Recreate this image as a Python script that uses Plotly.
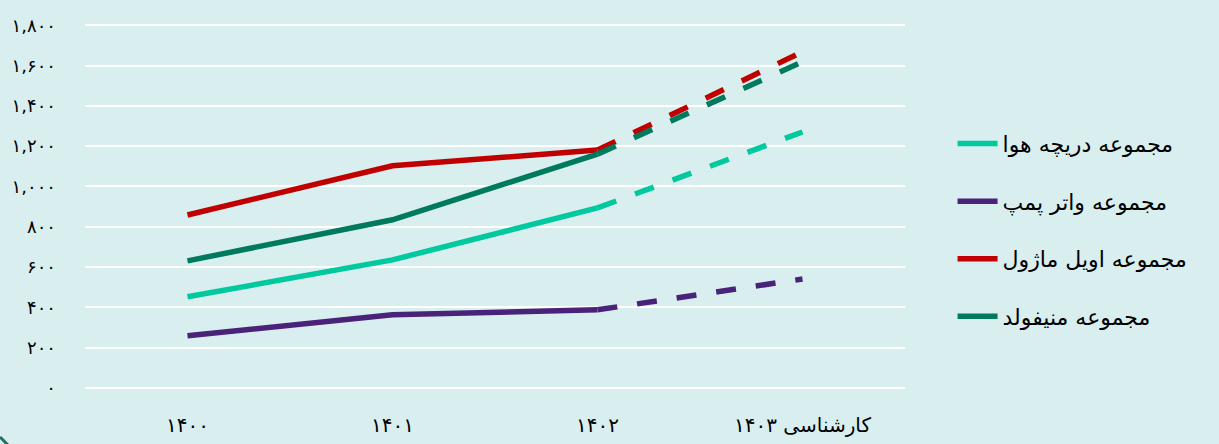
import plotly.graph_objects as go

categories = ["۱۴۰۰", "۱۴۰۱", "۱۴۰۲", "کارشناسی ۱۴۰۳"]
series_names = ["مجموعه دریچه هوا", "مجموعه واتر پمپ", "مجموعه اویل ماژول", "مجموعه منیفولد"]
air_valve = [452, 635, 893, 1270]
water_pump = [258, 362, 387, 540]
oil_module = [858, 1102, 1180, 1668]
manifold = [630, 834, 1160, 1618]
colors = ["#00C9A0", "#4A2279", "#C00000", "#007A5E"]
y_tickvals = [0, 200, 400, 600, 800, 1000, 1200, 1400, 1600, 1800]
y_ticktext = ["۰", "۲۰۰", "۴۰۰", "۶۰۰", "۸۰۰", "۱,۰۰۰", "۱,۲۰۰", "۱,۴۰۰", "۱,۶۰۰", "۱,۸۰۰"]

bg = "#D9EFEF"
font_family = "DejaVu Sans, Noto Sans, sans-serif"

fig = go.Figure()
all_series = [air_valve, water_pump, oil_module, manifold]
for name, vals, col in zip(series_names, all_series, colors):
    fig.add_trace(go.Scatter(
        x=categories[:3], y=vals[:3], mode="lines", name=name,
        line=dict(color=col, width=5.5), legendgroup=name, showlegend=True,
        hoverinfo="skip"))
    fig.add_trace(go.Scatter(
        x=categories[2:], y=vals[2:], mode="lines", name=name,
        line=dict(color=col, width=5.5, dash="20px,20px"), legendgroup=name,
        showlegend=False, hoverinfo="skip"))

fig.update_layout(
    width=1219, height=444,
    paper_bgcolor=bg, plot_bgcolor=bg,
    margin=dict(l=85, r=314, t=24, b=55),
    font=dict(family=font_family, color="#000000"),
    legend=dict(x=1.058, y=0.435, xanchor="left", yanchor="middle",
                font=dict(size=22, family=font_family), tracegroupgap=26,
                itemwidth=40, bgcolor="rgba(0,0,0,0)"),
    xaxis=dict(type="category", showgrid=False, zeroline=False, showline=False,
               tickfont=dict(size=20), ticks="", ticklabelstandoff=22,
               range=[-0.5, 3.5], automargin=False),
    yaxis=dict(range=[-6, 1806], tickvals=y_tickvals, ticktext=y_ticktext,
               showgrid=True, gridcolor="#FFFFFF", gridwidth=2, zeroline=False,
               showline=False, tickfont=dict(size=18), ticks="",
               ticklabelstandoff=28, automargin=False),
    shapes=[dict(type="line", xref="paper", yref="paper",
                 x0=-85/820, y0=-48/365, x1=-77/820, y1=-56/365,
                 line=dict(color="#1F6F66", width=3))],
)

fig.write_html("out.html", config={"displayModeBar": False},
               post_script="document.body.style.margin='0';document.body.style.background='%s';" % bg)
